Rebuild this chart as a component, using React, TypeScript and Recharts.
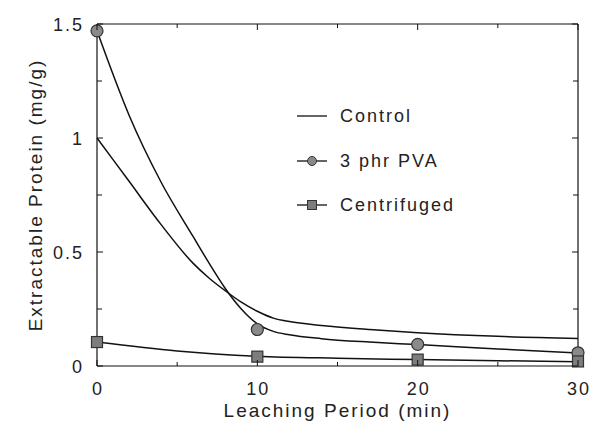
import React from 'react';
import { ComposedChart, Line, XAxis, YAxis, Legend } from 'recharts';

// ---- data ----
const curveX = [0, 2, 4, 6, 7, 8, 9, 10, 11, 12, 14, 17, 20, 25, 30];
const controlY = [1.0, 0.81, 0.62, 0.45, 0.385, 0.33, 0.28, 0.24, 0.21, 0.195, 0.178, 0.16, 0.146, 0.13, 0.121];
const pvaCurveY = [1.47, 1.1, 0.806, 0.567, 0.45, 0.34, 0.25, 0.185, 0.152, 0.137, 0.12, 0.105, 0.094, 0.075, 0.057];
const centCurveX = [0, 5, 10, 15, 20, 25, 30];
const centCurveY = [0.105, 0.066, 0.043, 0.034, 0.028, 0.023, 0.019];
const markerX = [0, 10, 20, 30];
const pvaMarkerY = [1.47, 0.16, 0.095, 0.058];
const centMarkerY = [0.105, 0.041, 0.028, 0.02];

const xTicks = [0, 5, 10, 15, 20, 25, 30];
const xLabelTicks = [0, 10, 20, 30];
const yTicks = [0, 0.25, 0.5, 0.75, 1, 1.25, 1.5];
const yLabelTicks = [0, 0.5, 1, 1.5];

const seriesNames = ['Control', '3 phr PVA', 'Centrifuged'];
const xTitle = 'Leaching Period (min)';
const yTitle = 'Extractable Protein (mg/g)';

const zip = (xs: number[], ys: number[]) => xs.map((x, i) => ({ x, y: ys[i] }));
const controlData = zip(curveX, controlY);
const pvaCurveData = zip(curveX, pvaCurveY);
const centCurveData = zip(centCurveX, centCurveY);
const pvaMarkerData = zip(markerX, pvaMarkerY);
const centMarkerData = zip(markerX, centMarkerY);

const FONT = '"Liberation Sans", Arial, Helvetica, sans-serif';
const TEXT = '#222';
const LINE = '#111';

const textStyle: React.CSSProperties = { fontFamily: FONT, fontSize: 18, letterSpacing: '2px', fill: TEXT };

const BottomTick = (p: any) => {
  const { x, y, payload } = p;
  const v = payload.value;
  const major = xLabelTicks.includes(v);
  return (
    <g>
      <line x1={x} x2={x} y1={y} y2={y - (major ? 6 : 4)} stroke={LINE} strokeWidth={1} />
      {major && (
        <text x={x + 1} y={y + 29} textAnchor="middle" style={textStyle}>
          {String(v)}
        </text>
      )}
    </g>
  );
};

const TopTick = (p: any) => {
  const { x, y, payload } = p;
  const major = xLabelTicks.includes(payload.value);
  return <line x1={x} x2={x} y1={y} y2={y + (major ? 6 : 4)} stroke={LINE} strokeWidth={1} />;
};

const LeftTick = (p: any) => {
  const { x, y, payload } = p;
  const v = payload.value;
  const major = yLabelTicks.includes(v);
  return (
    <g>
      <line x1={x} x2={x + (major ? 6 : 5)} y1={y} y2={y} stroke={LINE} strokeWidth={1} />
      {major && (
        <text x={x - 13} y={y + 6.5} textAnchor="end" style={textStyle}>
          {String(v)}
        </text>
      )}
    </g>
  );
};

const RightTick = (p: any) => {
  const { x, y, payload } = p;
  const major = yLabelTicks.includes(payload.value);
  return <line x1={x} x2={x - (major ? 6 : 5)} y1={y} y2={y} stroke={LINE} strokeWidth={1} />;
};

const CircleDot = (p: any) => {
  const { cx, cy } = p;
  if (cx == null || cy == null) return null;
  return <circle cx={cx} cy={cy} r={6} fill="#8a8a8a" stroke="#333" strokeWidth={1.2} />;
};

const SquareDot = (p: any) => {
  const { cx, cy } = p;
  if (cx == null || cy == null) return null;
  return <rect x={cx - 5.5} y={cy - 5.5} width={11} height={11} fill="#7d7d7d" stroke="#333" strokeWidth={1.2} />;
};

const LegendContent = () => (
  <div style={{ fontFamily: FONT, fontSize: 18, letterSpacing: '2px', color: TEXT }}>
    {seriesNames.map((name, i) => (
      <div key={name} style={{ display: 'flex', alignItems: 'center', height: 44.5 }}>
        <svg width={43} height={14} style={{ display: 'block', flex: 'none' }}>
          <line x1={0} x2={30} y1={7} y2={7} stroke={LINE} strokeWidth={1.3} />
          {i === 1 && <circle cx={15} cy={7} r={4.5} fill="#8a8a8a" stroke="#333" strokeWidth={1} />}
          {i === 2 && <rect x={10.5} y={2.5} width={9} height={9} fill="#7d7d7d" stroke="#333" strokeWidth={1} />}
        </svg>
        <span style={{ lineHeight: '18px' }}>{name}</span>
      </div>
    ))}
  </div>
);

export default function App() {
  return (
    <div style={{ position: 'absolute', left: 0, top: 0, width: 593, height: 432, background: '#fff' }}>
      <ComposedChart width={593} height={432} margin={{ top: 23, right: 14, bottom: 0, left: 0 }}>
        <XAxis
          dataKey="x"
          type="number"
          domain={[0, 30]}
          ticks={xTicks}
          interval={0}
          height={66}
          tickLine={false}
          tickSize={0}
          tickMargin={0}
          tick={<BottomTick />}
          axisLine={{ stroke: LINE, strokeWidth: 1.2 }}
          label={{ value: xTitle, position: 'insideBottom', offset: 15, style: { ...textStyle, fontSize: 19 } }}
        />
        <XAxis
          xAxisId="top"
          dataKey="x"
          orientation="top"
          type="number"
          domain={[0, 30]}
          ticks={xTicks}
          interval={0}
          height={1}
          tickLine={false}
          tickSize={0}
          tickMargin={0}
          tick={<TopTick />}
          axisLine={{ stroke: LINE, strokeWidth: 1.2 }}
        />
        <YAxis
          dataKey="y"
          type="number"
          domain={[0, 1.5]}
          ticks={yTicks}
          interval={0}
          width={97}
          tickLine={false}
          tickSize={0}
          tickMargin={0}
          tick={<LeftTick />}
          axisLine={{ stroke: LINE, strokeWidth: 1.2 }}
          label={{ value: yTitle, angle: -90, position: 'insideLeft', offset: 35, style: { ...textStyle, fontSize: 19, textAnchor: 'middle' } }}
        />
        <YAxis
          yAxisId="right"
          dataKey="y"
          orientation="right"
          type="number"
          domain={[0, 1.5]}
          ticks={yTicks}
          interval={0}
          width={1}
          tickLine={false}
          tickSize={0}
          tickMargin={0}
          tick={<RightTick />}
          axisLine={{ stroke: LINE, strokeWidth: 1.2 }}
        />
        <Legend
          layout="vertical"
          align="center"
          verticalAlign="middle"
          content={<LegendContent />}
          wrapperStyle={{ position: 'absolute', left: 297, top: 94, width: 220, height: 134 }}
        />
        <Line
          xAxisId="top"
          yAxisId="right"
          data={controlData}
          dataKey="y"
          stroke="none"
          dot={false}
          activeDot={false}
          legendType="none"
          isAnimationActive={false}
          name="frame"
        />
        <Line data={controlData} dataKey="y" type="monotone" stroke={LINE} strokeWidth={1.5} dot={false} isAnimationActive={false} name="Control" />
        <Line data={pvaCurveData} dataKey="y" type="monotone" stroke={LINE} strokeWidth={1.5} dot={false} isAnimationActive={false} name="3 phr PVA curve" legendType="none" />
        <Line data={centCurveData} dataKey="y" type="monotone" stroke={LINE} strokeWidth={1.5} dot={false} isAnimationActive={false} name="Centrifuged curve" legendType="none" />
        <Line data={pvaMarkerData} dataKey="y" stroke="none" dot={<CircleDot />} activeDot={false} isAnimationActive={false} name="3 phr PVA" />
        <Line data={centMarkerData} dataKey="y" stroke="none" dot={<SquareDot />} activeDot={false} isAnimationActive={false} name="Centrifuged" />
      </ComposedChart>
    </div>
  );
}
